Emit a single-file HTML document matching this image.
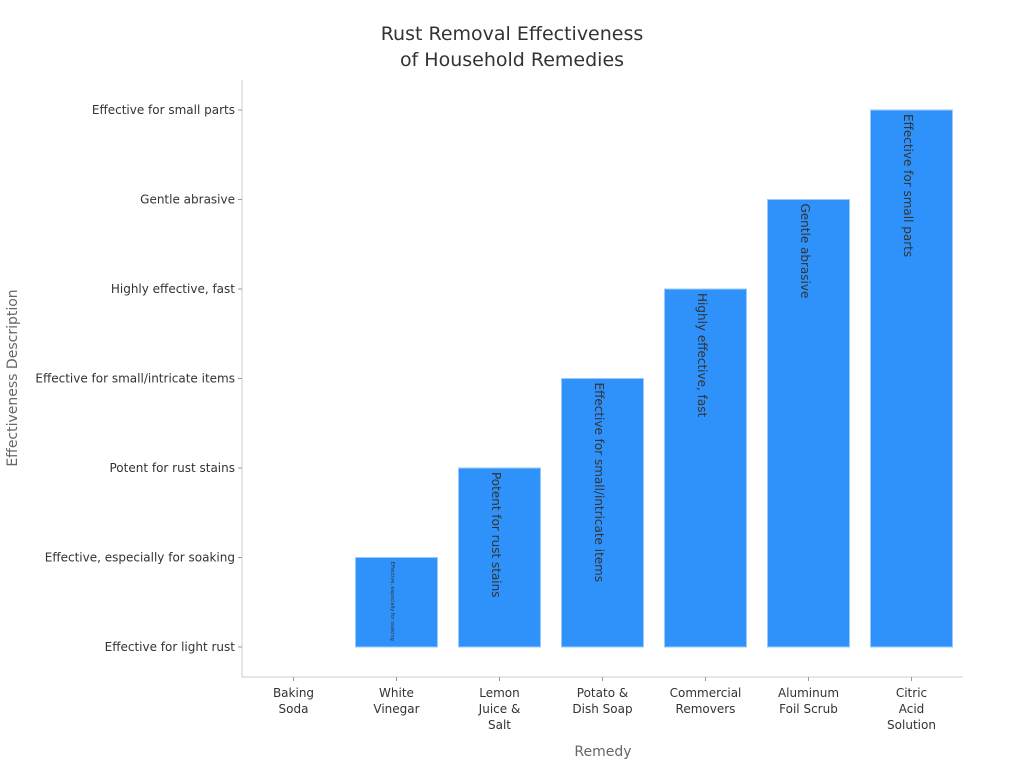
<!DOCTYPE html>
<html><head><meta charset="utf-8"><style>
body{margin:0;background:#fff;font-family:"Liberation Sans","DejaVu Sans",sans-serif}
</style></head><body>
<svg id="chart" width="1024" height="768" style="font-family:'DejaVu Sans','Liberation Sans',sans-serif">
<text x="512" y="40" text-anchor="middle" font-size="19" fill="#333">Rust Removal Effectiveness</text>
<text x="512" y="66" text-anchor="middle" font-size="19" fill="#333">of Household Remedies</text>
<line x1="242" y1="80" x2="242" y2="677" stroke="#ccc"/>
<line x1="242" y1="677" x2="963" y2="677" stroke="#ccc"/>
<text transform="translate(17,378) rotate(-90)" text-anchor="middle" font-size="14" fill="#666">Effectiveness Description</text>
<text x="603" y="756" text-anchor="middle" font-size="14" fill="#666">Remedy</text>
<g id="bars"></g><g id="xt"></g><g id="yt"></g>
</svg>
<script>
const categories=[["Baking","Soda"],["White","Vinegar"],["Lemon","Juice &","Salt"],["Potato &","Dish Soap"],["Commercial","Removers"],["Aluminum","Foil Scrub"],["Citric","Acid","Solution"]];
const levelLabels=["Effective for light rust","Effective, especially for soaking","Potent for rust stains","Effective for small/intricate items","Highly effective, fast","Gentle abrasive","Effective for small parts"];
const values=[0,1,2,3,4,5,6];
const NS="http://www.w3.org/2000/svg";
const x0=242,x1=963,bw=(x1-x0)/categories.length;
function xC(i){return x0+bw*(i+0.5);}
function yL(v){return 647-v*89.5;}
function mk(t,a,p){const e=document.createElementNS(NS,t);for(const k in a)e.setAttribute(k,a[k]);p.appendChild(e);return e;}
const bars=document.getElementById('bars'),xt=document.getElementById('xt'),yt=document.getElementById('yt');
levelLabels.forEach((l,i)=>{
 const y=yL(i);
 const tk=mk('line',{x1:238,x2:242,y1:y,y2:y,stroke:'#999'},yt);
 
 
 const t=mk('text',{x:235,y:y+4,'text-anchor':'end','font-size':12,fill:'#333'},yt);
 t.textContent=l;
 
 
});
categories.forEach((c,i)=>{
 const cx=xC(i);
 const tk=mk('line',{x1:cx,x2:cx,y1:677,y2:681,stroke:'#999'},xt);
 
 
 const t=mk('text',{x:cx,'text-anchor':'middle','font-size':12,fill:'#333'},xt);
 
 
 c.forEach((s,j)=>{const ts=mk('tspan',{x:cx,y:697+j*16},t);ts.textContent=s;});
 const v=values[i];
 if(v>0){
  const top=yL(v),bot=yL(0);
  const r=mk('rect',{x:cx-41,y:top,width:82,height:bot-top,fill:'#2e92fa',stroke:'#9cc9fb','stroke-width':1},bars);
  
  
  const small=(i===1);
  const lt=mk('text',{transform:`translate(${cx-4},${top+4}) rotate(90)`,'font-size':small?5:12,fill:'#333','dominant-baseline':'middle'},bars);
  lt.textContent=levelLabels[v];
  
  
 }
});
</script>
</body></html>
